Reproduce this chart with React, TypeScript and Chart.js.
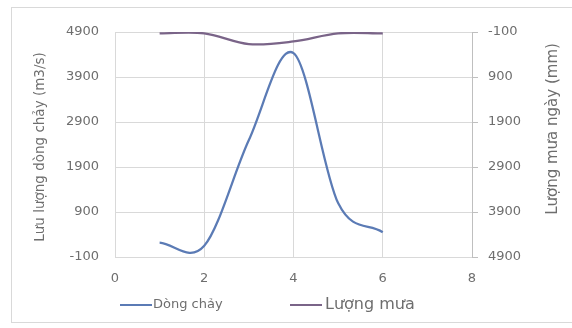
import React, { useEffect, useRef } from "react";
import { Chart, registerables } from "chart.js";
Chart.register(...registerables);

const xValues = [1, 2, 3, 4, 5, 6];
const flowValues = [220, 150, 2500, 4430, 1100, 450];
const rainValues = [-70, -70, 170, 110, -70, -70];
const flowLabel = "Dòng chảy";
const rainLabel = "Lượng mưa";
const leftTitle = "Lưu lượng dòng chảy (m3/s)";
const rightTitle = "Lượng mưa ngày (mm)";
const xTicks = [0, 2, 4, 6, 8];
const yTicks = [-100, 900, 1900, 2900, 3900, 4900];

const FLOW_COLOR = "#5b7bb5";
const RAIN_COLOR = "#7a6488";
const TEXT = "#6e6e6e";
const GRID = "#d9d9d9";
const FONT = "'DejaVu Sans', sans-serif";

// Excel-like smoothing: Catmull-Rom control points in pixel space
const smooth = {
  id: "smooth",
  beforeDatasetsDraw(chart: any) {
    chart.data.datasets.forEach((_ds: any, di: number) => {
      const meta = chart.getDatasetMeta(di);
      const line = meta.dataset;
      if (!line) return;
      line.updateControlPoints(chart.chartArea, "x");
      const pts = meta.data;
      const n = pts.length;
      for (let i = 0; i < n; i++) {
        const p = pts[i];
        let dx: number, dy: number;
        if (i === 0) {
          dx = (pts[1].x - p.x) / 3;
          dy = (pts[1].y - p.y) / 3;
        } else if (i === n - 1) {
          dx = (p.x - pts[n - 2].x) / 3;
          dy = (p.y - pts[n - 2].y) / 3;
        } else {
          dx = (pts[i + 1].x - pts[i - 1].x) / 6;
          dy = (pts[i + 1].y - pts[i - 1].y) / 6;
        }
        p.cp1x = p.x - dx;
        p.cp1y = p.y - dy;
        p.cp2x = p.x + dx;
        p.cp2y = p.y + dy;
      }
    });
  },
};

const decor = {
  id: "decor",
  beforeDraw(chart: any) {
    const ctx = chart.ctx;
    ctx.save();
    ctx.fillStyle = "#ffffff";
    ctx.fillRect(0, 0, chart.width, chart.height);
    ctx.strokeStyle = GRID;
    ctx.lineWidth = 1;
    ctx.strokeRect(11.5, 7.5, 600, 315);
    ctx.restore();
  },
  afterDraw(chart: any) {
    const ctx = chart.ctx;
    ctx.save();
    ctx.fillStyle = TEXT;
    ctx.textAlign = "center";
    ctx.textBaseline = "middle";
    ctx.save();
    ctx.font = `13.5px ${FONT}`;
    ctx.translate(40, 147);
    ctx.rotate(-Math.PI / 2);
    ctx.fillText(leftTitle, 0, 0);
    ctx.restore();
    ctx.save();
    ctx.font = `15px ${FONT}`;
    ctx.translate(553, 129);
    ctx.rotate(-Math.PI / 2);
    ctx.fillText(rightTitle, 0, 0);
    ctx.restore();
    // legend
    const ly = 305;
    ctx.lineWidth = 2;
    ctx.strokeStyle = FLOW_COLOR;
    ctx.beginPath();
    ctx.moveTo(120, ly);
    ctx.lineTo(152, ly);
    ctx.stroke();
    ctx.strokeStyle = RAIN_COLOR;
    ctx.beginPath();
    ctx.moveTo(290, ly);
    ctx.lineTo(322, ly);
    ctx.stroke();
    ctx.textAlign = "left";
    ctx.font = `13px ${FONT}`;
    ctx.fillText(flowLabel, 153, ly);
    ctx.font = `16px ${FONT}`;
    ctx.fillText(rainLabel, 325, ly);
    ctx.restore();
  },
};

const plain = (v: any) => String(v);

export default function App() {
  const ref = useRef<HTMLCanvasElement>(null);
  useEffect(() => {
    if (!ref.current) return;
    const chart = new Chart(ref.current, {
      type: "line",
      data: {
        datasets: [
          {
            label: flowLabel,
            data: xValues.map((x, i) => ({ x, y: flowValues[i] })),
            borderColor: FLOW_COLOR,
            backgroundColor: FLOW_COLOR,
            borderWidth: 2.25,
            pointRadius: 0,
            tension: 0.4,
            yAxisID: "y",
            fill: false,
          },
          {
            label: rainLabel,
            data: xValues.map((x, i) => ({ x, y: rainValues[i] })),
            borderColor: RAIN_COLOR,
            backgroundColor: RAIN_COLOR,
            borderWidth: 2.25,
            pointRadius: 0,
            tension: 0.4,
            yAxisID: "y2",
            fill: false,
          },
        ],
      },
      options: {
        responsive: false,
        animation: false,
        devicePixelRatio: 1,
        layout: { padding: { top: 32, left: 0, right: 0, bottom: 0 } },
        plugins: { legend: { display: false }, tooltip: { enabled: false } },
        scales: {
          x: {
            type: "linear",
            min: 0,
            max: 8,
            afterBuildTicks: (s: any) => {
              s.ticks = xTicks.map((v) => ({ value: v }));
            },
            afterFit: (s: any) => {
              s.height = 71;
            },
            ticks: { color: TEXT, font: { family: FONT, size: 13 }, padding: 14, callback: plain },
            grid: { color: GRID, drawTicks: false },
            border: { color: GRID },
          },
          y: {
            position: "left",
            min: -100,
            max: 4900,
            afterBuildTicks: (s: any) => {
              s.ticks = yTicks.map((v) => ({ value: v }));
            },
            afterFit: (s: any) => {
              s.width = 115;
            },
            ticks: { color: TEXT, font: { family: FONT, size: 13 }, padding: 16, callback: plain },
            grid: { color: GRID, drawTicks: false },
            border: { color: GRID },
          },
          y2: {
            position: "right",
            reverse: true,
            min: -100,
            max: 4900,
            afterBuildTicks: (s: any) => {
              s.ticks = yTicks.map((v) => ({ value: v }));
            },
            afterFit: (s: any) => {
              s.width = 100;
            },
            ticks: { color: TEXT, font: { family: FONT, size: 13 }, padding: 10, callback: plain },
            grid: { drawOnChartArea: false, drawTicks: true, tickLength: 6, color: "#bfbfbf" },
            border: { color: "#bfbfbf" },
          },
        },
      },
      plugins: [decor, smooth],
    } as any);
    return () => chart.destroy();
  }, []);
  return (
    <div style={{ position: "fixed", left: 0, top: 0, width: 572, height: 328 }}>
      <canvas ref={ref} width={572} height={328} style={{ display: "block" }} />
    </div>
  );
}
